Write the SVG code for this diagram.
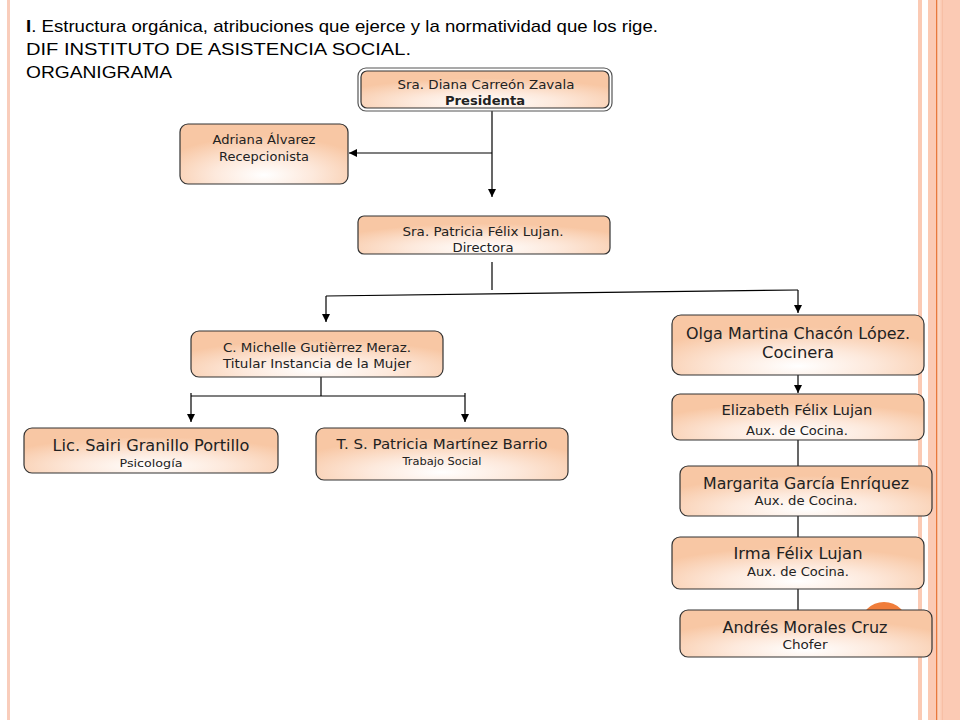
<svg xmlns="http://www.w3.org/2000/svg" width="960" height="720" viewBox="0 0 960 720">
<defs>
<radialGradient id="g" cx="50%" cy="85%" r="65%">
<stop offset="0" stop-color="#ffffff"/>
<stop offset="0.45" stop-color="#fde9dc"/>
<stop offset="1" stop-color="#f8c7a4"/>
</radialGradient>
<marker id="ah" viewBox="0 0 10 10" refX="10" refY="5" markerWidth="8" markerHeight="8" markerUnits="userSpaceOnUse" orient="auto">
<path d="M0,0 L10,5 L0,10 z" fill="#000"/>
</marker>
<style>
.box{fill:url(#g);stroke:#333;stroke-width:1.2}
.t{font-family:"DejaVu Sans",Verdana,sans-serif;fill:#222;text-anchor:middle}
.h{font-family:"Liberation Sans",Arial,sans-serif;fill:#000;font-size:17px}
.c{stroke:#000;stroke-width:1.2;fill:none}
</style>
</defs>
<rect width="960" height="720" fill="#fff"/>
<g id="frame">
<rect x="7" y="0" width="3" height="720" fill="#f9cdbb"/>
<rect x="918" y="0" width="4" height="720" fill="#fbcab4"/>
<rect x="928" y="0" width="32" height="720" fill="#fbcab4"/>
<rect x="936" y="0" width="1.5" height="720" fill="#e8793c"/>
<rect x="937.5" y="0" width="3" height="720" fill="#fcd6c2"/>
<rect x="942" y="0" width="1" height="720" fill="#f7bfa5"/>
</g>
<g id="title">
<text class="h" x="26" y="32" textLength="632" lengthAdjust="spacingAndGlyphs"><tspan font-weight="bold">I</tspan>. Estructura orgánica, atribuciones que ejerce y la normatividad que los rige.</text>
<text class="h" x="26" y="55" textLength="385" lengthAdjust="spacingAndGlyphs">DIF INSTITUTO DE ASISTENCIA SOCIAL.</text>
<text class="h" x="26" y="78" textLength="146" lengthAdjust="spacingAndGlyphs">ORGANIGRAMA</text>
</g>
<circle cx="884" cy="626" r="24" fill="#f07d3a"/>
<g id="connectors">
<path class="c" d="M492,111 V197" marker-end="url(#ah)"/>
<path class="c" d="M492,153 H349" marker-end="url(#ah)"/>
<path class="c" d="M492,262 V290"/>
<path class="c" d="M326,296 L798,290"/>
<path class="c" d="M326,296 V322" marker-end="url(#ah)"/>
<path class="c" d="M798,290 V313" marker-end="url(#ah)"/>
<path class="c" d="M321,377 V396"/>
<path class="c" d="M191,396 H465"/>
<path class="c" d="M191,393 V422" marker-end="url(#ah)"/>
<path class="c" d="M465,393 V422" marker-end="url(#ah)"/>
<path class="c" d="M798,375 V393" marker-end="url(#ah)"/>
<path class="c" d="M798,440 V466"/>
<path class="c" d="M798,516 V537"/>
<path class="c" d="M798,589 V610"/>
</g>
<g id="presidenta">
<rect x="358" y="68" width="254" height="43" rx="8" fill="none" stroke="#555" stroke-width="1.2"/>
<rect class="box" x="361" y="71" width="248" height="37" rx="6"/>
<text class="t" x="486" y="89" font-size="12" textLength="177" lengthAdjust="spacingAndGlyphs">Sra. Diana Carreón Zavala</text>
<text class="t" x="485" y="105" font-size="12" font-weight="bold" textLength="80" lengthAdjust="spacingAndGlyphs">Presidenta</text>
</g>
<g id="recepcionista">
<rect class="box" x="180" y="124" width="168" height="60" rx="8"/>
<text class="t" x="264" y="144" font-size="12" textLength="103" lengthAdjust="spacingAndGlyphs">Adriana Álvarez</text>
<text class="t" x="264" y="161" font-size="12" textLength="90" lengthAdjust="spacingAndGlyphs">Recepcionista</text>
</g>
<g id="directora">
<rect class="box" x="358" y="216" width="252" height="38" rx="6"/>
<text class="t" x="483" y="236" font-size="12" textLength="161" lengthAdjust="spacingAndGlyphs">Sra. Patricia Félix Lujan.</text>
<text class="t" x="483" y="252" font-size="12" textLength="61" lengthAdjust="spacingAndGlyphs">Directora</text>
</g>
<g id="mujer">
<rect class="box" x="191" y="331" width="252" height="46" rx="8"/>
<text class="t" x="317" y="352" font-size="12" textLength="188" lengthAdjust="spacingAndGlyphs">C. Michelle  Gutièrrez  Meraz.</text>
<text class="t" x="317" y="368" font-size="12" textLength="188" lengthAdjust="spacingAndGlyphs">Titular  Instancia  de la Mujer</text>
</g>
<g id="psicologia">
<rect class="box" x="24" y="428" width="254" height="45" rx="8"/>
<text class="t" x="151" y="451" font-size="15" textLength="197" lengthAdjust="spacingAndGlyphs">Lic. Sairi  Granillo  Portillo</text>
<text class="t" x="151" y="467" font-size="11" textLength="63" lengthAdjust="spacingAndGlyphs">Psicología</text>
</g>
<g id="trabajo">
<rect class="box" x="316" y="428" width="252" height="52" rx="8"/>
<text class="t" x="442" y="449" font-size="14" textLength="211" lengthAdjust="spacingAndGlyphs">T. S. Patricia Martínez Barrio</text>
<text class="t" x="442" y="465" font-size="10.5" textLength="79" lengthAdjust="spacingAndGlyphs">Trabajo Social</text>
</g>
<g id="cocinera">
<rect class="box" x="672" y="315" width="252" height="60" rx="9"/>
<text class="t" x="798" y="339" font-size="15" textLength="224" lengthAdjust="spacingAndGlyphs">Olga Martina Chacón López.</text>
<text class="t" x="798" y="358" font-size="15" textLength="72" lengthAdjust="spacingAndGlyphs">Cocinera</text>
</g>
<g id="elizabeth">
<rect class="box" x="672" y="394" width="252" height="46" rx="8"/>
<text class="t" x="797" y="415" font-size="14" textLength="151" lengthAdjust="spacingAndGlyphs">Elizabeth Félix Lujan</text>
<text class="t" x="797" y="435" font-size="12" textLength="102" lengthAdjust="spacingAndGlyphs">Aux. de Cocina.</text>
</g>
<g id="margarita">
<rect class="box" x="680" y="466" width="252" height="50" rx="8"/>
<text class="t" x="806" y="489" font-size="15" textLength="206" lengthAdjust="spacingAndGlyphs">Margarita García Enríquez</text>
<text class="t" x="806" y="505" font-size="12" textLength="103" lengthAdjust="spacingAndGlyphs">Aux. de Cocina.</text>
</g>
<g id="irma">
<rect class="box" x="672" y="537" width="252" height="52" rx="8"/>
<text class="t" x="798" y="559" font-size="15" textLength="129" lengthAdjust="spacingAndGlyphs">Irma Félix Lujan</text>
<text class="t" x="798" y="576" font-size="12" textLength="102" lengthAdjust="spacingAndGlyphs">Aux. de Cocina.</text>
</g>
<g id="andres">
<rect class="box" x="680" y="610" width="252" height="47" rx="8"/>
<text class="t" x="805" y="633" font-size="15" textLength="165" lengthAdjust="spacingAndGlyphs">Andrés Morales Cruz</text>
<text class="t" x="805" y="649" font-size="12" textLength="45" lengthAdjust="spacingAndGlyphs">Chofer</text>
</g>
</svg>
